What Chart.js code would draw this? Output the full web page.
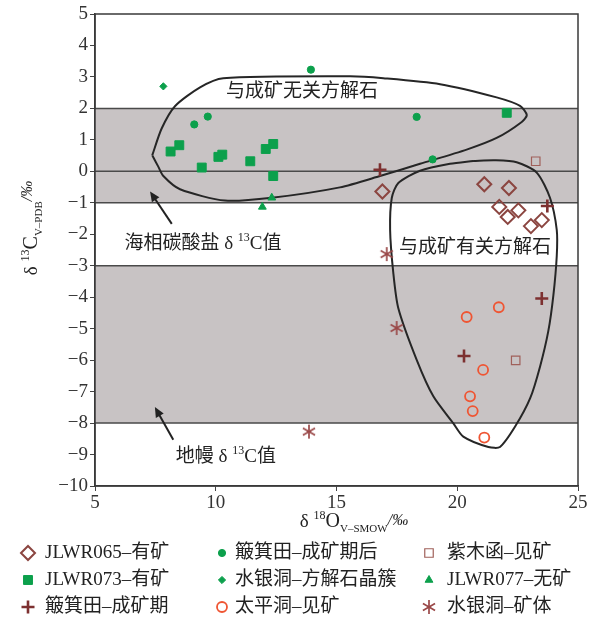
<!DOCTYPE html>
<html lang="zh">
<head>
  <meta charset="UTF-8" />
  <title>δ13C - δ18O 图解</title>
  <script src="https://cdn.jsdelivr.net/npm/chart.js"></script>
  <style>
    html, body { margin: 0; padding: 0; background: #fff; }
    #wrap { width: 608px; height: 630px; }
  </style>
</head>
<body>
  <div id="wrap"><canvas id="chart" width="608" height="630"></canvas></div>
  <script>
    // values: [δ18O, δ13C]
    const jlwr065 = [[16.90,-0.64],[21.12,-0.41],[22.14,-0.53],[21.74,-1.13],[22.53,-1.24],[22.09,-1.45],[23.50,-1.55],[23.05,-1.74]];
    const bojitianPost = [[13.94,3.23],[9.11,1.49],[9.67,1.74],[18.32,1.73],[18.98,0.38]];
    const zimuhan = [[23.25,0.32],[22.42,-6.01]];
    const jlwr073 = [[8.13,0.63],[8.49,0.83],[9.42,0.12],[10.11,0.46],[10.27,0.53],[11.43,0.32],[12.07,0.71],[12.38,0.87],[12.38,-0.15],[22.05,1.86]];
    const shuiyindongCluster = [[7.83,2.70]];
    const jlwr077 = [[11.93,-1.13],[12.32,-0.84]];
    const bojitianOre = [[16.80,0.05],[23.73,-1.10],[23.50,-4.04],[20.28,-5.87]];
    const taipingdong = [[20.39,-4.63],[21.72,-4.32],[21.07,-6.31],[20.53,-7.15],[20.64,-7.62],[21.12,-8.46]];
    const shuiyindongOre = [[17.08,-2.63],[17.49,-4.98],[13.86,-8.27]];

    // hand-drawn field outlines
    const fieldBarren = [[7.37,0.51],[7.76,1.36],[8.31,2.07],[9.35,2.67],[10.31,2.96],[15.56,3.02],[16.94,2.96],[19.29,2.77],[21.63,2.35],[22.60,2.08],[22.88,1.79],[22.67,1.57],[21.63,1.06],[20.39,0.69],[18.46,0.24],[16.80,-0.15],[15.14,-0.51],[12.32,-0.84],[10.38,-0.93],[8.52,-0.57],[7.83,-0.15],[7.62,0.15],[7.37,0.51]];
    const fieldOre = [[20.66,0.33],[21.56,0.35],[22.46,0.29],[23.29,-0.04],[23.84,-0.84],[24.12,-1.86],[24.12,-2.69],[23.98,-3.94],[23.77,-5.08],[23.43,-6.20],[23.02,-7.21],[22.39,-8.12],[21.77,-8.76],[21.29,-8.76],[20.25,-8.43],[19.84,-8.01],[19.01,-7.15],[18.32,-5.99],[17.56,-4.35],[17.35,-3.21],[17.22,-1.86],[17.29,-0.84],[17.56,-0.37],[18.46,0.02],[19.70,0.24],[20.66,0.33]];

    const bands = [[2, -1], [-3, -8]];
    const refLines = [2, 0, -1, -3, -8];
    const xTicks = [5, 10, 15, 20, 25];

    const FONT = "'Liberation Serif', 'Noto Sans CJK SC', serif";
    const GREEN = '#0ca04c';
    const BROWN = '#8b4540';

    function toPts(arr) { return arr.map(p => ({ x: p[0], y: p[1] })); }

    function makeAsterisk(color, r) {
      const c = document.createElement('canvas');
      const s = 2 * r + 4;
      c.width = s; c.height = s;
      const g = c.getContext('2d');
      g.strokeStyle = color; g.lineWidth = 1.7;
      for (let k = 0; k < 3; k++) {
        const a = Math.PI / 2 + k * Math.PI / 3;
        g.beginPath();
        g.moveTo(s / 2 + r * Math.cos(a), s / 2 + r * Math.sin(a));
        g.lineTo(s / 2 - r * Math.cos(a), s / 2 - r * Math.sin(a));
        g.stroke();
      }
      return c;
    }
    const asterisk = makeAsterisk('#9a4848', 7);

    const series = [
      { label: 'JLWR065–有矿', data: jlwr065, style: 'rectRot', r: 7, fill: 'rgba(0,0,0,0)', line: BROWN, w: 2 },
      { label: '簸箕田–成矿期后', data: bojitianPost, style: 'circle', r: 3.6, fill: GREEN, line: GREEN, w: 1 },
      { label: '紫木函–见矿', data: zimuhan, style: 'rect', r: 6, fill: 'rgba(0,0,0,0)', line: '#a0605a', w: 1.2 },
      { label: 'JLWR073–有矿', data: jlwr073, style: 'rect', r: 6.3, fill: GREEN, line: GREEN, w: 1 },
      { label: '水银洞–方解石晶簇', data: shuiyindongCluster, style: 'rectRot', r: 3.6, fill: GREEN, line: GREEN, w: 1 },
      { label: 'JLWR077–无矿', data: jlwr077, style: 'triangle', r: 4.5, fill: GREEN, line: GREEN, w: 1 },
      { label: '簸箕田–成矿期', data: bojitianOre, style: 'cross', r: 6.5, fill: '#7d3030', line: '#7d3030', w: 2.6 },
      { label: '太平洞–见矿', data: taipingdong, style: 'circle', r: 5, fill: 'rgba(0,0,0,0)', line: '#ef5533', w: 1.8 },
      { label: '水银洞–矿体', data: shuiyindongOre, style: asterisk, r: 7, fill: '#9a4848', line: '#9a4848', w: 1 }
    ];

    const datasets = series.map((s, i) => ({
      label: s.label,
      data: toPts(s.data),
      pointStyle: s.style,
      pointRadius: s.r,
      pointHoverRadius: s.r,
      pointBackgroundColor: s.fill,
      pointBorderColor: s.line,
      pointBorderWidth: s.w,
      showLine: false,
      order: 1
    }));
    [fieldBarren, fieldOre].forEach(f => datasets.push({
      label: '_field',
      data: toPts(f),
      showLine: true,
      tension: 0.25,
      pointRadius: 0,
      borderColor: '#262626',
      borderWidth: 2,
      fill: false,
      order: 5
    }));

    function drawRich(ctx, parts, x, y) {
      let total = 0;
      parts.forEach(p => {
        ctx.font = (p.it ? 'italic ' : '') + p.s + 'px ' + FONT;
        p.w = ctx.measureText(p.t).width;
        total += p.w;
      });
      let cx = x - total / 2;
      ctx.textAlign = 'left';
      ctx.textBaseline = 'middle';
      parts.forEach(p => {
        ctx.font = (p.it ? 'italic ' : '') + p.s + 'px ' + FONT;
        ctx.fillText(p.t, cx, y + (p.dy || 0));
        cx += p.w;
      });
    }

    const bandPlugin = {
      id: 'bands',
      beforeDatasetsDraw(chart) {
        const { ctx, chartArea: a, scales: { y } } = chart;
        ctx.save();
        ctx.fillStyle = '#c8c3c4';
        bands.forEach(b => {
          const y1 = y.getPixelForValue(b[0]), y2 = y.getPixelForValue(b[1]);
          ctx.fillRect(a.left, y1, a.right - a.left, y2 - y1);
        });
        ctx.strokeStyle = '#4a4a4a';
        ctx.lineWidth = 1.5;
        refLines.forEach(v => {
          const py = y.getPixelForValue(v);
          ctx.beginPath(); ctx.moveTo(a.left, py); ctx.lineTo(a.right, py); ctx.stroke();
        });
        ctx.restore();
      },
      afterDatasetsDraw(chart) {
        const { ctx, chartArea: a, scales: { x, y } } = chart;
        ctx.save();
        ctx.strokeStyle = '#3a3a3a';
        ctx.lineWidth = 1.5;
        ctx.strokeRect(a.left, a.top, a.right - a.left, a.bottom - a.top);

        // arrows
        ctx.strokeStyle = '#222'; ctx.fillStyle = '#222'; ctx.lineWidth = 2;
        [[[8.18,-1.67],[7.28,-0.64]], [[8.24,-8.53],[7.48,-7.49]]].forEach(ar => {
          const x1 = x.getPixelForValue(ar[0][0]), y1 = y.getPixelForValue(ar[0][1]);
          const x2 = x.getPixelForValue(ar[1][0]), y2 = y.getPixelForValue(ar[1][1]);
          const ang = Math.atan2(y2 - y1, x2 - x1);
          ctx.beginPath(); ctx.moveTo(x1, y1); ctx.lineTo(x2 - 6 * Math.cos(ang), y2 - 6 * Math.sin(ang)); ctx.stroke();
          ctx.beginPath();
          ctx.moveTo(x2, y2);
          ctx.lineTo(x2 - 10 * Math.cos(ang) + 4.5 * Math.sin(ang), y2 - 10 * Math.sin(ang) - 4.5 * Math.cos(ang));
          ctx.lineTo(x2 - 10 * Math.cos(ang) - 4.5 * Math.sin(ang), y2 - 10 * Math.sin(ang) + 4.5 * Math.cos(ang));
          ctx.closePath(); ctx.fill();
        });

        // annotations
        ctx.fillStyle = '#222';
        drawRich(ctx, [{ t: '与成矿无关方解石', s: 19 }], x.getPixelForValue(13.57), y.getPixelForValue(2.52));
        drawRich(ctx, [{ t: '与成矿有关方解石', s: 19 }], x.getPixelForValue(20.73), y.getPixelForValue(-2.44));
        drawRich(ctx, [{ t: '海相碳酸盐 δ ', s: 19 }, { t: '13', s: 12, dy: -6 }, { t: 'C值', s: 19 }],
          x.getPixelForValue(9.47), y.getPixelForValue(-2.31));
        drawRich(ctx, [{ t: '地幔 δ ', s: 19 }, { t: '13', s: 12, dy: -6 }, { t: 'C值', s: 19 }],
          x.getPixelForValue(10.42), y.getPixelForValue(-9.08));
        ctx.restore();
      },
      afterDraw(chart) {
        const { ctx } = chart;
        ctx.save();
        ctx.fillStyle = '#222';
        // axis titles
        drawRich(ctx, [{ t: 'δ ', s: 19 }, { t: '18', s: 12, dy: -6 }, { t: 'O', s: 20 }, { t: 'V–SMOW', s: 11, dy: 7 }, { t: '/‰', s: 16, it: true, dy: -1 }], 354, 522);
        ctx.translate(32, 228);
        ctx.rotate(-Math.PI / 2);
        drawRich(ctx, [{ t: 'δ ', s: 19 }, { t: '13', s: 12, dy: -6 }, { t: 'C', s: 20 }, { t: 'V–PDB', s: 11, dy: 7 }, { t: '/‰', s: 16, it: true, dy: -4 }], 0, 0);
        ctx.setTransform(1, 0, 0, 1, 0, 0);

        // legend, 3 x 3 grid
        const colMark = [28, 222, 429];
        const colText = [45, 235, 447];
        const rowY = [553, 580, 607];
        series.forEach((s, i) => {
          const c = i % 3, r = Math.floor(i / 3);
          ctx.fillStyle = s.fill; ctx.strokeStyle = s.line; ctx.lineWidth = s.w;
          Chart.helpers.drawPoint(ctx, { pointStyle: s.style, radius: s.r, rotation: 0, borderWidth: s.w }, colMark[c], rowY[r]);
          ctx.fillStyle = '#222';
          ctx.font = '19px ' + FONT;
          ctx.textAlign = 'left'; ctx.textBaseline = 'middle';
          ctx.fillText(s.label, colText[c], rowY[r]);
        });
        ctx.restore();
      }
    };

    new Chart(document.getElementById('chart'), {
      type: 'scatter',
      data: { datasets },
      plugins: [bandPlugin],
      options: {
        responsive: false,
        animation: false,
        layout: { padding: { top: 14, right: 30, left: 0, bottom: 0 } },
        plugins: { legend: { display: false }, tooltip: { enabled: false } },
        scales: {
          x: {
            type: 'linear', min: 5, max: 25,
            afterBuildTicks: s => { s.ticks = xTicks.map(v => ({ value: v })); },
            afterFit: s => { s.height = 144; },
            grid: { drawOnChartArea: false, tickLength: 5, color: '#444' },
            border: { color: '#3a3a3a', width: 1.5 },
            ticks: { color: '#333', font: { family: FONT, size: 19 }, padding: 1, maxRotation: 0 }
          },
          y: {
            type: 'linear', min: -10, max: 5,
            ticks: {
              stepSize: 1, color: '#333', font: { family: FONT, size: 19 }, padding: 2,
              callback: v => v < 0 ? '−' + Math.abs(v) : String(v)
            },
            afterFit: s => { s.width = 95; },
            grid: { drawOnChartArea: false, tickLength: 5, color: '#444' },
            border: { color: '#3a3a3a', width: 1.5 }
          }
        }
      }
    });
  </script>
</body>
</html>
